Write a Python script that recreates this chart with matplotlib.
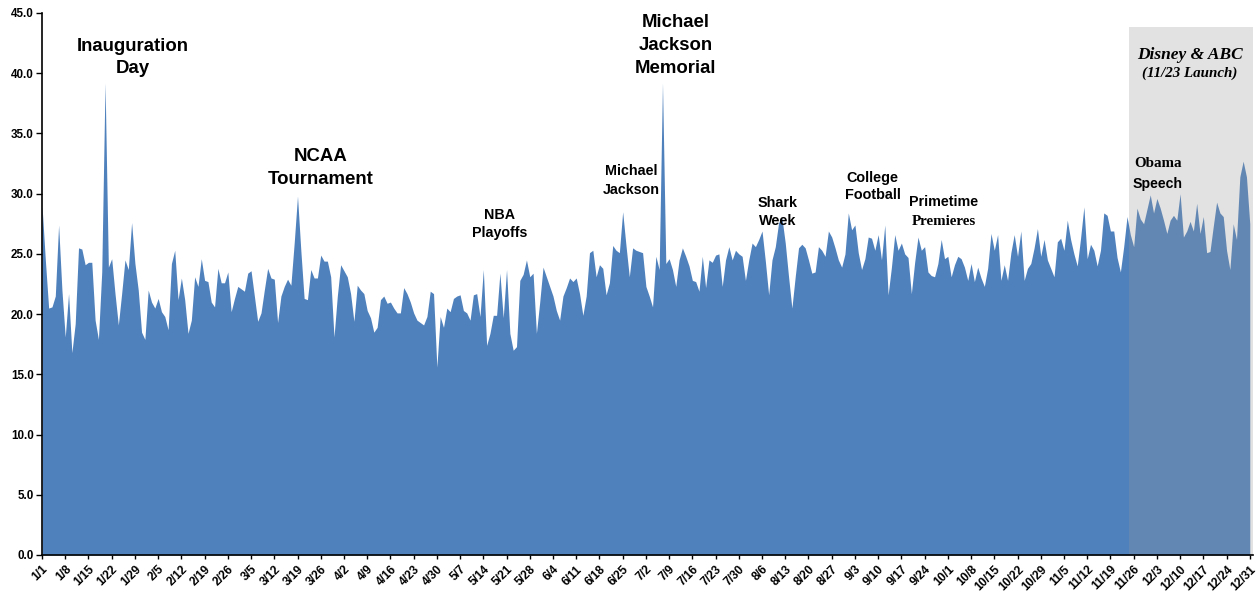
import numpy as np
import pandas as pd
import matplotlib
matplotlib.use('Agg')
import matplotlib.pyplot as plt
from matplotlib.ticker import FormatStrFormatter

# daily audience, 2009, one list per month
jan = [29.0, 24.5, 20.5, 20.6, 21.5, 27.4, 22.0, 18.1, 21.7, 16.8, 19.2, 25.5, 25.4, 24.1, 24.3, 24.3,
       19.5, 17.9, 23.5, 39.2, 23.9, 24.6, 21.7, 19.1, 21.7, 24.5, 23.7, 27.6, 24.2, 22.0, 18.5]
feb = [17.9, 22.0, 21.0, 20.5, 21.3, 20.2, 19.8, 18.7, 24.2, 25.3, 21.2, 23.0, 21.2, 18.4, 19.5, 23.1,
       22.3, 24.6, 22.8, 22.7, 21.0, 20.6, 23.8, 22.6, 22.6, 23.5, 20.2, 21.3]
mar = [22.3, 22.1, 21.9, 23.4, 23.6, 21.5, 19.4, 20.1, 22.0, 23.8, 23.0, 22.9, 19.3, 21.5, 22.3, 22.9,
       22.4, 25.9, 29.8, 25.3, 21.3, 21.2, 23.7, 23.0, 23.0, 24.9, 24.4, 24.4, 23.1, 18.1, 21.5]
apr = [24.1, 23.6, 23.1, 21.7, 19.4, 22.4, 22.0, 21.7, 20.3, 19.7, 18.5, 18.9, 21.2, 21.5, 20.9, 21.0,
       20.5, 20.1, 20.1, 22.2, 21.7, 21.0, 20.1, 19.5, 19.3, 19.1, 19.8, 21.9, 21.7, 15.6]
may = [19.8, 18.9, 20.5, 20.2, 21.3, 21.5, 21.6, 20.3, 20.1, 19.5, 21.6, 21.7, 19.8, 23.7, 17.4, 18.4,
       19.9, 19.9, 23.4, 19.7, 23.7, 18.4, 17.0, 17.3, 22.8, 23.3, 24.5, 23.1, 23.4, 18.4, 21.0]
jun = [23.9, 23.1, 22.3, 21.5, 20.3, 19.5, 21.5, 22.2, 23.0, 22.7, 23.0, 21.7, 19.9, 21.5, 25.1, 25.3,
       23.1, 24.1, 23.8, 21.6, 22.6, 25.7, 25.3, 25.1, 28.5, 25.7, 23.1, 25.5, 25.3, 25.2]
jul = [25.1, 22.3, 21.5, 20.6, 24.8, 23.7, 39.2, 24.2, 24.6, 23.7, 22.3, 24.5, 25.5, 24.8, 24.0, 22.8,
       22.7, 21.9, 24.8, 22.2, 24.5, 24.3, 24.9, 25.0, 22.3, 24.5, 25.6, 24.5, 25.3, 25.0, 24.8]
aug = [22.8, 24.5, 25.9, 25.6, 26.2, 26.9, 24.4, 21.6, 24.5, 25.6, 27.6, 28.0, 25.9, 23.1, 20.5, 23.1,
       25.5, 25.8, 25.5, 24.5, 23.4, 23.5, 25.6, 25.3, 24.8, 26.9, 26.4, 25.5, 24.5, 23.9, 25.0]
sep = [28.4, 27.0, 27.4, 25.1, 23.7, 24.6, 26.4, 26.3, 25.3, 26.6, 24.5, 27.4, 21.6, 23.9, 26.6, 25.3,
       25.9, 25.0, 24.7, 21.7, 24.3, 26.4, 25.3, 25.6, 23.5, 23.2, 23.1, 24.2, 26.2, 24.6]
oct_ = [24.8, 23.1, 24.1, 24.8, 24.6, 23.9, 22.8, 24.2, 22.7, 23.9, 23.0, 22.3, 23.8, 26.7, 25.3, 26.6,
        22.8, 24.1, 22.8, 25.1, 26.6, 24.8, 26.9, 22.8, 23.8, 24.2, 25.5, 27.1, 24.8, 26.2, 24.5]
nov = [23.8, 23.1, 26.0, 26.3, 25.3, 27.8, 26.2, 25.0, 24.0, 26.3, 28.9, 24.6, 25.8, 25.3, 24.0, 25.3,
       28.4, 28.2, 26.9, 26.9, 24.7, 23.5, 25.6, 28.1, 26.6, 25.6, 28.8, 27.9, 27.5, 28.7]
dec = [29.9, 28.4, 29.6, 28.8, 27.8, 26.7, 27.8, 28.2, 27.8, 30.0, 26.4, 26.9, 27.7, 26.9, 29.2, 26.7,
       28.1, 25.1, 25.2, 27.3, 29.3, 28.4, 28.1, 25.3, 23.7, 27.5, 26.2, 31.4, 32.7, 31.4, 27.5]

values = jan + feb + mar + apr + may + jun + jul + aug + sep + oct_ + nov + dec
dates = pd.date_range('2009-01-01', '2009-12-31', freq='D')
x = np.arange(len(values))

tick_pos = x[::7]
tick_labels = [f'{d.month}/{d.day}' for d in dates[::7]]

# launch period (day index where the grey band starts)
launch_start = 327.5
band_top = 43.8

sans = 'Liberation Sans'
serif = 'Liberation Serif'

fig = plt.figure(figsize=(12.58, 5.96), dpi=100)
ax = fig.add_axes([0.0334, 0.0688, 0.9627, 0.9094])

ax.fill_between(x, values, 0, color='#4f81bd', lw=0, zorder=2)
ax.fill_between([launch_start, x[-1] + 1], band_top, 0, color='#9a9a9a', alpha=0.28,
                lw=0, zorder=3)

ax.set_xlim(0, x[-1] + 1)
ax.set_ylim(0, 45)
ax.set_yticks(np.arange(0, 46, 5))
ax.yaxis.set_major_formatter(FormatStrFormatter('%.1f'))
ax.set_xticks(tick_pos)
ax.set_xticklabels(tick_labels, rotation=45, ha='right', va='top', rotation_mode='anchor')

for lbl in ax.get_xticklabels():
    lbl.set_fontfamily(sans)
    lbl.set_fontweight('bold')
    lbl.set_fontsize(8.6)
for lbl in ax.get_yticklabels():
    lbl.set_fontfamily(sans)
    lbl.set_fontweight('bold')
    lbl.set_fontsize(8.4)

ax.tick_params(axis='y', length=4, width=1, pad=2, direction='out')
ax.tick_params(axis='x', length=3, width=1, pad=3, direction='out')
for s in ['top', 'right']:
    ax.spines[s].set_visible(False)
for s in ['left', 'bottom']:
    ax.spines[s].set_linewidth(1.2)
    ax.spines[s].set_zorder(5)

def note(xd, yd, txt, size, family=sans, style='normal', spacing=1.45):
    ax.text(xd, yd, txt, ha='center', va='center', fontsize=size, fontweight='bold',
            family=family, style=style, zorder=6, linespacing=spacing)

note(27.4, 41.3, 'Inauguration\nDay', 13.4)
note(84.0, 32.1, 'NCAA\nTournament', 13.4)
note(138.0, 27.5, 'NBA\nPlayoffs', 10.3, spacing=1.4)
note(177.5, 31.1, 'Michael\nJackson', 10.3, spacing=1.4)
note(191.0, 42.3, 'Michael\nJackson\nMemorial', 13.4)
note(221.8, 28.5, 'Shark\nWeek', 10.4, spacing=1.35)
note(250.4, 30.6, 'College\nFootball', 10.4, spacing=1.35)
note(271.8, 29.3, 'Primetime', 10.3)
note(271.8, 27.7, 'Premieres', 10.8, family=serif)
note(336.3, 32.5, 'Obama', 10.8, family=serif)
note(336.3, 30.8, 'Speech', 10.2)
note(345.9, 41.5, 'Disney & ABC', 12.5, family=serif, style='italic')
note(345.9, 40.0, '(11/23 Launch)', 10.8, family=serif, style='italic')

fig.savefig('out.png', dpi=100)
